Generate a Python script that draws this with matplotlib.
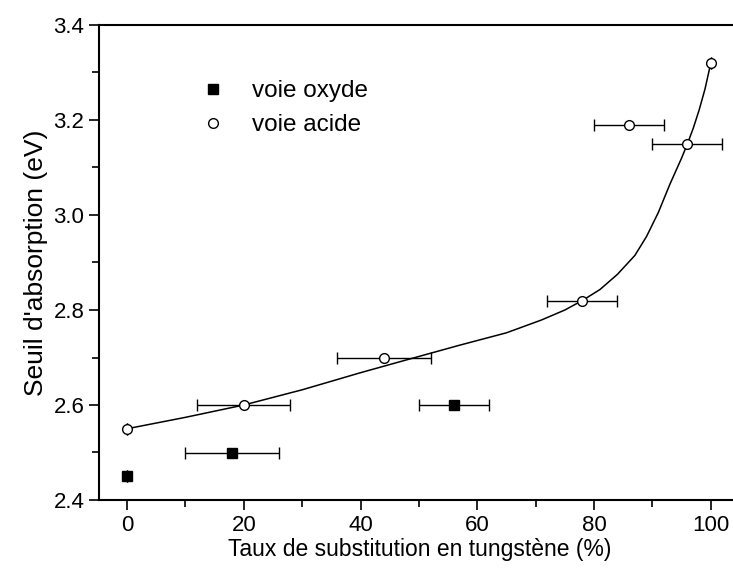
import numpy as np
import matplotlib.pyplot as plt
from matplotlib.ticker import MultipleLocator

plt.rcParams['font.family'] = ['Liberation Sans', 'DejaVu Sans']

# voie oxyde
x_oxyde = [0, 18, 56]
y_oxyde = [2.45, 2.50, 2.60]
xerr_oxyde = [0, 8, 6]

# voie acide
x_acide = [0, 20, 44, 78, 86, 96, 100]
y_acide = [2.55, 2.60, 2.70, 2.82, 3.19, 3.15, 3.32]
xerr_acide = [0, 8, 8, 6, 6, 6, 0]

# guide line through the acid route
x_fit = [0, 10, 20, 30, 40, 47, 57, 65, 71, 75, 78, 81, 84, 87, 89, 91, 93, 95, 96, 97, 98, 99, 100]
y_fit = [2.550, 2.574, 2.600, 2.632, 2.668, 2.692, 2.726, 2.752, 2.779, 2.800, 2.820, 2.843,
         2.875, 2.915, 2.955, 3.005, 3.065, 3.120, 3.150, 3.183, 3.221, 3.265, 3.320]

fig = plt.figure(figsize=(7.33, 5.72), dpi=100)
ax = fig.add_axes([99 / 733, 72 / 572, 641 / 733, 475 / 572])

ax.plot(x_fit, y_fit, c='k', lw=1.1, zorder=2)
ax.errorbar(x_oxyde, y_oxyde, xerr=xerr_oxyde, fmt='s', ms=7, mfc='k', mec='k',
            ecolor='k', elinewidth=1, capsize=4, capthick=1, label='voie oxyde', zorder=3)
ax.errorbar(x_acide, y_acide, xerr=xerr_acide, fmt='o', ms=7, mfc='white', mec='k', mew=1,
            ecolor='k', elinewidth=1, capsize=4, capthick=1, label='voie acide', zorder=3)

ax.set_xlim(-4.8, 105)
ax.set_ylim(2.4, 3.4)
ax.xaxis.set_major_locator(MultipleLocator(20))
ax.xaxis.set_minor_locator(MultipleLocator(10))
ax.yaxis.set_major_locator(MultipleLocator(0.2))
ax.yaxis.set_minor_locator(MultipleLocator(0.1))
ax.yaxis.set_major_formatter(plt.FormatStrFormatter('%.1f'))
ax.tick_params(which='both', direction='out', width=1.2, labelsize=16)
ax.tick_params(which='major', length=7)
ax.tick_params(which='minor', length=5)
ax.tick_params(top=False, right=False)
for s in ax.spines.values():
    s.set_linewidth(1.5)

ax.set_xlabel('Taux de substitution en tungstène (%)', fontsize=16.5, labelpad=2)
ax.set_ylabel("Seuil d'absorption (eV)", fontsize=19, labelpad=4)

h, l = ax.get_legend_handles_labels()
h = [hh[0] for hh in h]
ax.legend(h, l, loc='upper left', bbox_to_anchor=(0.125, 0.93), frameon=False,
          fontsize=17.5, handletextpad=1.1, labelspacing=0.5, handlelength=1.0)

plt.savefig('out.png')
